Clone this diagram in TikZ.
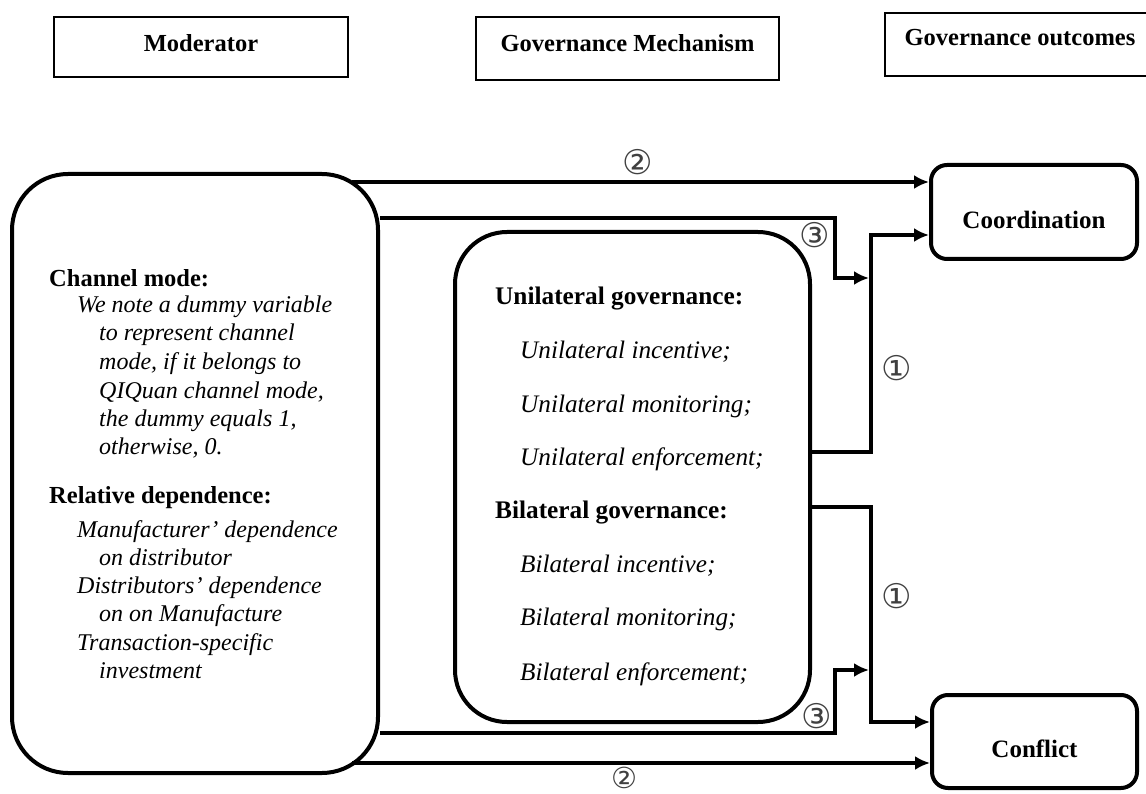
\documentclass[tikz,border=0pt]{standalone}
\usepackage{fontspec}
\setmainfont{Liberation Serif}
\newfontfamily\circfont{DejaVu Sans}
\usetikzlibrary{arrows.meta}

\begin{document}
\begin{tikzpicture}[x=1pt, y=-1pt,
  hdr/.style={draw, line width=2.5pt, inner sep=0pt, font=\bfseries\fontsize{24.5}{28}\selectfont},
  box/.style={draw, line width=4pt, inner sep=0pt},
  outbox/.style={draw, line width=4pt, rounded corners=16pt, inner sep=0pt, minimum width=205pt, minimum height=93pt, font=\bfseries\fontsize{25}{28}\selectfont},
  head/.style={anchor=base west, inner sep=0pt, font=\bfseries\fontsize{24.5}{28}\selectfont},
  item/.style={anchor=base west, inner sep=0pt, font=\itshape\fontsize{24}{28}\selectfont},
  arr/.style={line width=4pt, -{Latex[length=15pt, width=14pt]}},
  num/.style={inner sep=0pt, text=black!75, font=\circfont\fontsize{34}{34}\selectfont}
]
\useasboundingbox (0,0) rectangle (1146,794);

% column headers
\node[hdr, minimum width=294pt, minimum height=60pt, text height=10pt] (modhdr) at (201,47) {Moderator};
\node[hdr, minimum width=303pt, minimum height=63pt, text height=7pt] (mechhdr) at (627.5,48.5) {Governance Mechanism};
\node[hdr, minimum width=270pt, minimum height=63pt, text height=3pt] (outhdr) at (1020,44.5) {Governance outcomes};

% main boxes
\node[box, rounded corners=56pt, minimum width=366pt, minimum height=599pt] (chan) at (195,473.5) {};
\node[box, rounded corners=52pt, minimum width=355pt, minimum height=490pt] (mech) at (632.5,477) {};
\node[outbox, minimum width=206pt, minimum height=94pt, text height=34pt] (coord) at (1034,212) {Coordination};
\node[outbox, text height=33pt] (confl) at (1034.5,741.5) {Conflict};

% moderator text
\node[head] (cmhead) at (49,287) {Channel mode:};
\foreach \x/\y/\t [count=\i] in {77/313/{We note a dummy variable}, 99/341/{to represent channel},
    99/370/{mode, if it belongs to}, 99/398/{QIQuan channel mode,}, 99/426/{the dummy equals 1,},
    99/454/{otherwise, 0.}}
  \node[item] (cm\i) at (\x,\y) {\t};
\node[head] (rdhead) at (49,503) {Relative dependence:};
\foreach \x/\y/\t [count=\i] in {77/537/{Manufacturer’ dependence}, 99/565/{on distributor},
    77/593/{Distributors’ dependence}, 99/621/{on on Manufacture},
    77/650/{Transaction-specific}, 99/678/{investment}}
  \node[item] (rd\i) at (\x,\y) {\t};

% mechanism text
\tikzset{head/.append style={font=\bfseries\fontsize{25.3}{28}\selectfont},
         item/.append style={font=\itshape\fontsize{25.2}{28}\selectfont}}
\node[head] (unihead) at (495,305) {Unilateral governance:};
\foreach \y/\t [count=\i] in {358/incentive, 412/monitoring, 465/enforcement}
  \node[item] (uni\i) at (520,\y) {Unilateral \t;};
\node[head] (bihead) at (495,518) {Bilateral governance:};
\foreach \y/\t [count=\i] in {572/incentive, 625/monitoring, 680/enforcement}
  \node[item] (bi\i) at (520,\y) {Bilateral \t;};

% connectors
\coordinate (c2a) at (352,182);
\coordinate (c2b) at (352,763);
\draw[arr] (c2a) -- (c2a -| coord.west);
\draw[arr] (chan.east |- 0,218) -| (835,278) -- (869,278);
\draw[arr] (mech.east |- 0,452) -| (871,235) -- (coord.west |- 0,235);
\draw[arr] (mech.east |- 0,507) -| (871,722) -- (confl.west |- 0,722);
\draw[arr] (chan.east |- 0,733) -| (835,670) -- (869,670);
\draw[arr] (c2b) -- (c2b -| confl.west);

% path numbers
\node[num] (n2a) at (638,162) {②};
\node[num] (n3a) at (815,235) {③};
\node[num] (n1a) at (897,368) {①};
\node[num] (n1b) at (897,596) {①};
\node[num] (n3b) at (817,716) {③};
\node[num, font=\circfont\fontsize{29}{29}\selectfont] (n2b) at (624,778) {②};

\end{tikzpicture}
\end{document}
